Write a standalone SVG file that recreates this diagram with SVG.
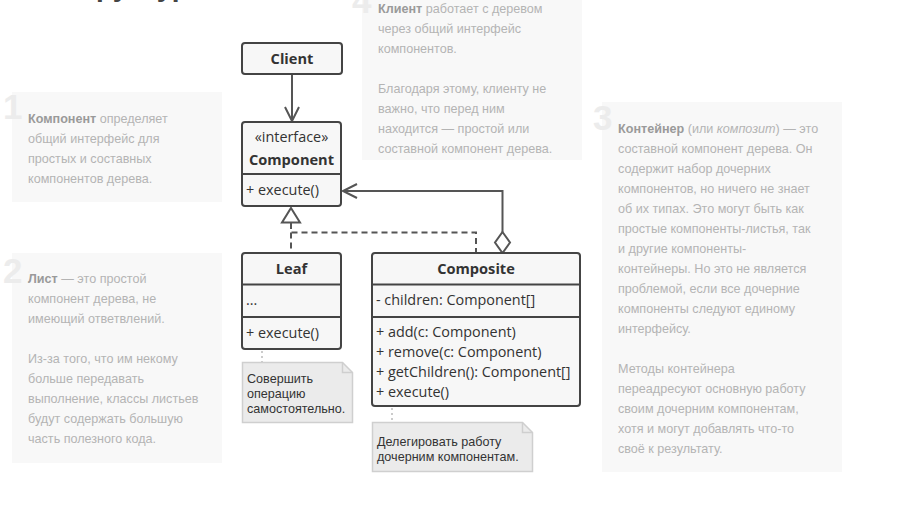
<svg xmlns="http://www.w3.org/2000/svg" width="919" height="519" viewBox="0 0 919 519">
<defs>
<style>
.panel{fill:#f8f8f8}
.num{font-family:"Liberation Sans",Arial,sans-serif;font-weight:bold;font-size:35px;fill:#ececec}
.pt{font-family:"Liberation Sans",Arial,sans-serif;font-size:12.6px;fill:#b4b4b4}
.pt .b{font-weight:bold;fill:#9a9a9a}
.pt .i{font-style:italic}
.box{fill:#f7f7f7;stroke:#444;stroke-width:2}
.div{stroke:#444;stroke-width:2}
.t{font-family:"Open Sans","Liberation Sans",Arial,sans-serif;font-size:14.4px;fill:#333}
.tb{font-family:"Open Sans","Liberation Sans",Arial,sans-serif;font-size:14.6px;font-weight:bold;fill:#333;text-anchor:middle}
.tc{text-anchor:middle}
.note{fill:#ebebeb;stroke:#cfcfcf;stroke-width:1.5}
.nt{font-family:"Liberation Sans",Arial,sans-serif;font-size:12.6px;fill:#333}
.conn{fill:none;stroke:#555;stroke-width:2}
.dash{fill:none;stroke:#555;stroke-width:2;stroke-dasharray:6,4}
.dot{fill:none;stroke:#bbb;stroke-width:1.5;stroke-dasharray:2,3}
</style>
<marker id="open" markerUnits="userSpaceOnUse" markerWidth="20" markerHeight="20" viewBox="-16 -10 20 20" refX="0" refY="0" orient="auto">
<path d="M-14,-7 L0,0 L-14,7" fill="none" stroke="#555" stroke-width="2"/>
</marker>
</defs>
<rect width="919" height="519" fill="#fff"/>
<text x="62" y="-4" font-family="Liberation Sans,Arial,sans-serif" font-weight="bold" font-size="28" fill="#444">Структура</text>

<g id="panel1">
<rect class="panel" x="12" y="92" width="210" height="110"/>
<text class="num" x="3" y="119">1</text>
<text class="pt" x="28" y="123"><tspan class="b">Компонент</tspan> определяет</text>
<text class="pt" x="28" y="143">общий интерфейс для</text>
<text class="pt" x="28" y="163">простых и составных</text>
<text class="pt" x="28" y="183">компонентов дерева.</text>
</g>

<g id="panel2">
<rect class="panel" x="12" y="253" width="210" height="210"/>
<text class="num" x="3" y="283">2</text>
<text class="pt" x="28" y="283"><tspan class="b">Лист</tspan> — это простой</text>
<text class="pt" x="28" y="303">компонент дерева, не</text>
<text class="pt" x="28" y="323">имеющий ответвлений.</text>
<text class="pt" x="28" y="363">Из-за того, что им некому</text>
<text class="pt" x="28" y="383">больше передавать</text>
<text class="pt" x="28" y="403">выполнение, классы листьев</text>
<text class="pt" x="28" y="423">будут содержать большую</text>
<text class="pt" x="28" y="443">часть полезного кода.</text>
</g>

<g id="panel4">
<rect class="panel" x="362" y="-10" width="220" height="170"/>
<text class="num" x="352" y="13">4</text>
<text class="pt" x="378" y="13"><tspan class="b">Клиент</tspan> работает с деревом</text>
<text class="pt" x="378" y="33">через общий интерфейс</text>
<text class="pt" x="378" y="53">компонентов.</text>
<text class="pt" x="378" y="93">Благодаря этому, клиенту не</text>
<text class="pt" x="378" y="113">важно, что перед ним</text>
<text class="pt" x="378" y="133">находится — простой или</text>
<text class="pt" x="378" y="153">составной компонент дерева.</text>
</g>

<g id="panel3">
<rect class="panel" x="602" y="102" width="240" height="370"/>
<text class="num" x="593" y="130">3</text>
<text class="pt" x="618" y="133"><tspan class="b">Контейнер</tspan> (или <tspan class="i">композит</tspan>) — это</text>
<text class="pt" x="618" y="153">составной компонент дерева. Он</text>
<text class="pt" x="618" y="173">содержит набор дочерних</text>
<text class="pt" x="618" y="193">компонентов, но ничего не знает</text>
<text class="pt" x="618" y="213">об их типах. Это могут быть как</text>
<text class="pt" x="618" y="233">простые компоненты-листья, так</text>
<text class="pt" x="618" y="253">и другие компоненты-</text>
<text class="pt" x="618" y="273">контейнеры. Но это не является</text>
<text class="pt" x="618" y="293">проблемой, если все дочерние</text>
<text class="pt" x="618" y="313">компоненты следуют единому</text>
<text class="pt" x="618" y="333">интерфейсу.</text>
<text class="pt" x="618" y="373">Методы контейнера</text>
<text class="pt" x="618" y="393">переадресуют основную работу</text>
<text class="pt" x="618" y="413">своим дочерним компонентам,</text>
<text class="pt" x="618" y="433">хотя и могут добавлять что-то</text>
<text class="pt" x="618" y="453">своё к результату.</text>
</g>

<g id="connectors">
<line class="conn" x1="292" y1="75" x2="292" y2="121" marker-end="url(#open)"/>
<path class="conn" d="M502.5,232 V191 H343" marker-end="url(#open)"/>
<path class="dash" d="M291,223 V232.5 H476 V253"/>
<line class="dash" x1="291" y1="232.5" x2="291" y2="253"/>
<path d="M291,208 L300,222.5 L282,222.5 Z" fill="#fff" stroke="#555" stroke-width="2"/>
<path d="M502.5,232 L510,242.5 L502.5,253 L495,242.5 Z" fill="#fff" stroke="#555" stroke-width="2"/>
<line class="dot" x1="262" y1="351" x2="262" y2="362"/>
<line class="dot" x1="392" y1="408" x2="392" y2="422"/>
</g>

<g id="client">
<rect class="box" x="242" y="43" width="100" height="31" rx="3"/>
<text class="tb" x="292" y="64">Client</text>
</g>

<g id="component">
<rect class="box" x="242" y="122" width="99" height="84" rx="3"/>
<line class="div" x1="242" y1="174" x2="341" y2="174"/>
<text class="t tc" x="291.5" y="142">«interface»</text>
<text class="tb" x="291.5" y="165">Component</text>
<text class="t" x="246" y="195">+ execute()</text>
</g>

<g id="leaf">
<rect class="box" x="242" y="253" width="99" height="96" rx="3"/>
<line class="div" x1="242" y1="284.5" x2="341" y2="284.5"/>
<line class="div" x1="242" y1="317" x2="341" y2="317"/>
<text class="tb" x="291.5" y="274">Leaf</text>
<text class="t" x="246" y="305">...</text>
<text class="t" x="246" y="338">+ execute()</text>
</g>

<g id="composite">
<rect class="box" x="372" y="253" width="208" height="153" rx="3"/>
<line class="div" x1="372" y1="284.5" x2="580" y2="284.5"/>
<line class="div" x1="372" y1="317" x2="580" y2="317"/>
<text class="tb" x="476" y="274">Composite</text>
<text class="t" x="376" y="305">- children: Component[]</text>
<text class="t" x="376" y="337">+ add(c: Component)</text>
<text class="t" x="376" y="357">+ remove(c: Component)</text>
<text class="t" x="376" y="377">+ getChildren(): Component[]</text>
<text class="t" x="376" y="397">+ execute()</text>
</g>

<g id="leaf-note">
<path class="note" d="M242.5,362.5 H342.5 L352.5,372.5 V422.5 H242.5 Z"/>
<path d="M342.5,362.5 V372.5 H352.5" fill="none" stroke="#cfcfcf" stroke-width="1.5"/>
<text class="nt" x="247" y="382.5">Совершить</text>
<text class="nt" x="247" y="397.5">операцию</text>
<text class="nt" x="247" y="412.5">самостоятельно.</text>
</g>

<g id="composite-note">
<path class="note" d="M372.5,422.5 H522.5 L532.5,432.5 V471.5 H372.5 Z"/>
<path d="M522.5,422.5 V432.5 H532.5" fill="none" stroke="#cfcfcf" stroke-width="1.5"/>
<text class="nt" x="377" y="445.5">Делегировать работу</text>
<text class="nt" x="377" y="461">дочерним компонентам.</text>
</g>
</svg>
